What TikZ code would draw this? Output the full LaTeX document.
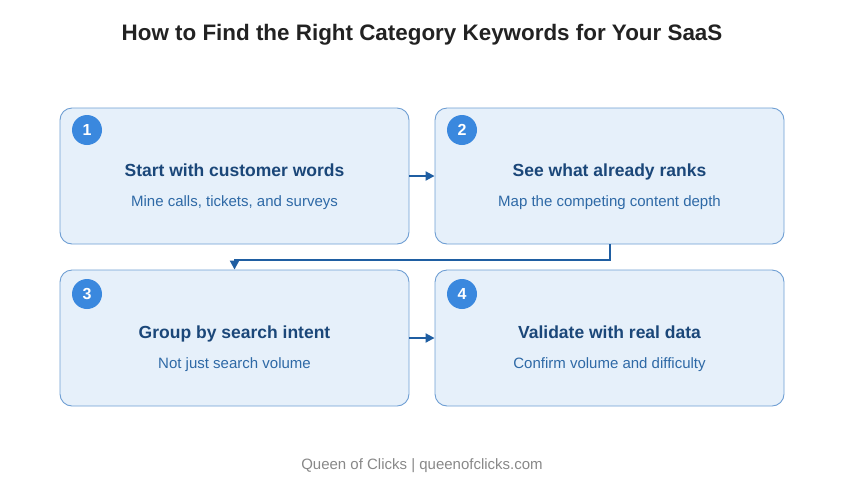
\documentclass[tikz,border=0pt]{standalone}
\usepackage{fontspec}
\setmainfont{Liberation Sans}
\usetikzlibrary{arrows.meta}
\definecolor{boxfill}{HTML}{E6F0FA}
\definecolor{boxline}{HTML}{6E9ED3}
\definecolor{badge}{HTML}{3A88DE}
\definecolor{headc}{HTML}{1B4779}
\definecolor{subc}{HTML}{2E69A6}
\definecolor{arrc}{HTML}{1F5EA2}
\definecolor{titlec}{HTML}{222222}
\definecolor{footc}{HTML}{888888}
\tikzset{
  stepbox/.style={draw=boxline, fill=boxfill, line width=0.9pt, rounded corners=12pt, minimum width=349pt, minimum height=136pt, inner sep=0pt},
  badgec/.style={circle, fill=badge, minimum size=30pt, inner sep=0pt, text=white, font=\bfseries\fontsize{16}{18}\selectfont},
  headt/.style={anchor=base, text=headc, font=\bfseries\fontsize{17.5}{20}\selectfont},
  subt/.style={anchor=base, text=subc, font=\fontsize{15}{18}\selectfont},
  conn/.style={draw=arrc, line width=2pt, -{Triangle[length=9pt,width=9pt]}},
}
\begin{document}
\begin{tikzpicture}[x=1pt,y=-1pt]
\useasboundingbox (0,0) rectangle (845,491);
\node[anchor=base, text=titlec, font=\bfseries\fontsize{22.4}{26}\selectfont] (title) at (422,40) {How to Find the Right Category Keywords for Your SaaS};

\node[stepbox] (b1) at (234.5,176) {};
\node[stepbox] (b2) at (609.5,176) {};
\node[stepbox] (b3) at (234.5,338) {};
\node[stepbox] (b4) at (609.5,338) {};

\node[badgec] (n1) at (87,130) {1};
\node[badgec] (n2) at (462,130) {2};
\node[badgec] (n3) at (87,294) {3};
\node[badgec] (n4) at (462,294) {4};

\node[headt] (h1) at (234.5,176.5) {Start with customer words};
\node[subt] (s1) at (234.5,206.5) {Mine calls, tickets, and surveys};
\node[headt] (h2) at (609.5,176.5) {See what already ranks};
\node[subt] (s2) at (609.5,206.5) {Map the competing content depth};
\node[headt] (h3) at (234.5,338.5) {Group by search intent};
\node[subt] (s3) at (234.5,368.5) {Not just search volume};
\node[headt] (h4) at (609.5,338.5) {Validate with real data};
\node[subt] (s4) at (609.5,368.5) {Confirm volume and difficulty};

\draw[conn] (b1.east) -- (b2.west);
\draw[conn] (b2.south) -- ++(0,16) -| (b3.north);
\draw[conn] (b3.east) -- (b4.west);

\node[anchor=base, text=footc, font=\fontsize{15}{18}\selectfont] (foot) at (422,469) {Queen of Clicks | queenofclicks.com};
\end{tikzpicture}
\end{document}
